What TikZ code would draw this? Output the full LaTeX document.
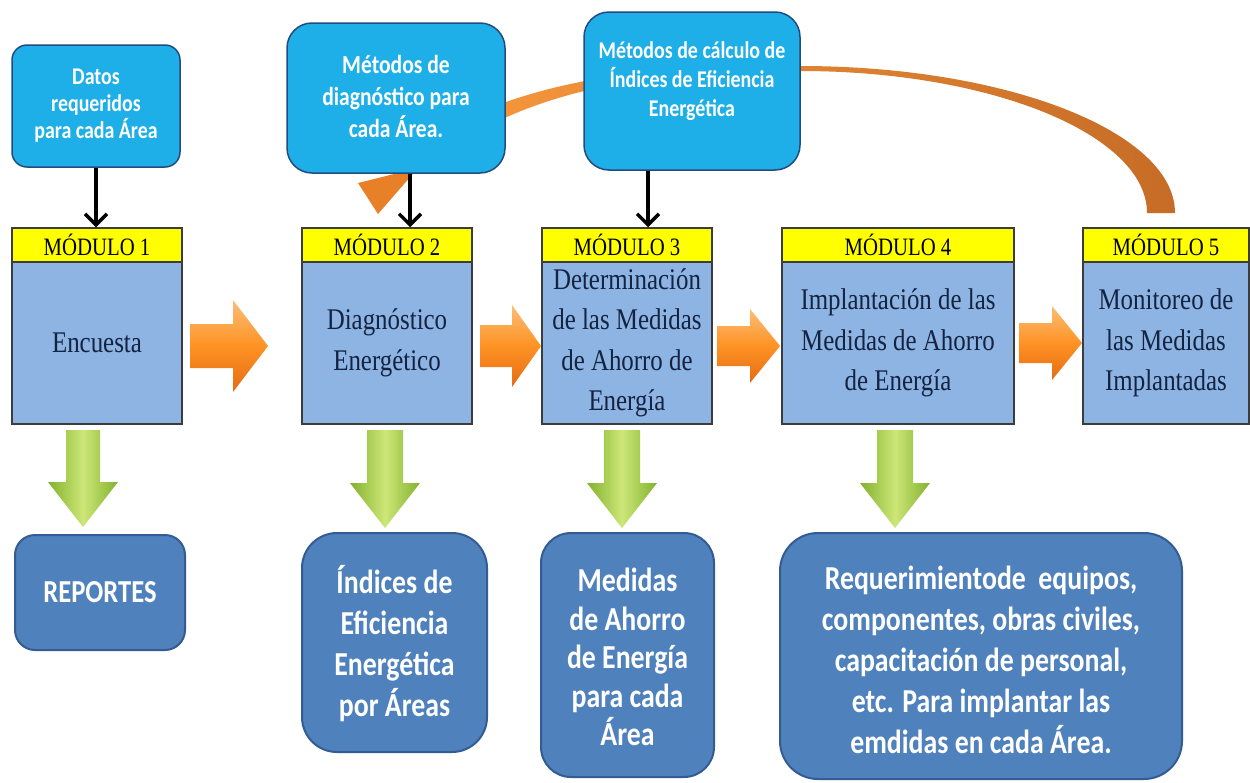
\documentclass[tikz,border=0pt]{standalone}
\usepackage{fontspec}
\setmainfont{Liberation Serif}[FakeStretch=0.83]
\newfontfamily\calfont{Carlito}[FakeStretch=0.83]
\usetikzlibrary{arrows.meta}
\definecolor{hdryellow}{RGB}{255,255,0}
\definecolor{modblue}{RGB}{141,180,226}
\definecolor{modline}{RGB}{60,60,60}
\definecolor{modtext}{RGB}{20,35,65}
\definecolor{skyblue}{RGB}{30,175,232}
\definecolor{skyline}{RGB}{35,75,130}
\definecolor{outblue}{RGB}{79,129,189}
\definecolor{outline}{RGB}{52,92,148}
\definecolor{orTop}{RGB}{252,190,120}
\definecolor{orBot}{RGB}{228,108,20}
\definecolor{arcL}{RGB}{245,150,60}
\definecolor{arcR}{RGB}{198,108,38}
\definecolor{grTop}{RGB}{205,230,120}
\definecolor{grBot}{RGB}{130,178,45}
\newcommand\oarrow[6]{%
  \shade[top color=orTop, bottom color=orBot, middle color=orange!70!orTop]
    (#1,#4-#5) -- (#2,#4-#5) -- (#2,#4-#6) -- (#3,#4) -- (#2,#4+#6) -- (#2,#4+#5) -- (#1,#4+#5) -- cycle;}
\newcommand\garrow[6]{%
  \shade[left color=grBot, right color=grBot, middle color=grTop]
    (#1-#5,#2) -- (#1+#5,#2) -- (#1+#5,#3) -- (#1+#6,#3) -- (#1,#4) -- (#1-#6,#3) -- (#1-#5,#3) -- cycle;}
\begin{document}
\begin{tikzpicture}[x=1pt,y=-1pt,
  hdr/.style={draw=modline, line width=1.5pt, fill=hdryellow, inner sep=0pt,
    font=\fontsize{25}{28}\selectfont, text=black},
  bodybox/.style={draw=modline, line width=1.5pt, fill=modblue, inner sep=0pt,
    align=center, font=\fontsize{30}{40.5}\selectfont, text=modtext},
  tbox/.style={draw=skyline, line width=1.5pt, fill=skyblue, inner sep=0pt},
  ttext/.style={text=white, align=center, inner sep=0pt},
  obox/.style={draw=outline, line width=2pt, fill=outblue, inner sep=0pt},
  otext/.style={text=white, align=center, inner sep=0pt,
    font=\calfont\bfseries\fontsize{33.5}{41}\selectfont},
  blk/.style={line width=3.5pt, -{Straight Barb[length=11pt,width=22pt]}}]
\useasboundingbox (0,0) rectangle (1250,782);
\fill[white] (0,0) rectangle (1250,782);

% orange curved arrow behind the top boxes
\shade[left color=arcL, right color=arcR]
  (480,112) .. controls (570,74) and (680,64) .. (800,66)
  .. controls (1007,66) and (1175,132) .. (1175,213) -- (1147,213)
  .. controls (1147,135) and (992,71) .. (800,71)
  .. controls (680,70) and (575,82) .. (490,125) -- cycle;
\fill[color={rgb,255:red,232;green,128;blue,40}] (358,183) -- (418,168) -- (378,214) -- cycle;

% top boxes
\node[tbox, rounded corners=15pt, minimum width=168, minimum height=122] (t1) at (96,106) {};
\node[ttext, font=\calfont\bfseries\fontsize{24}{27}\selectfont] (t1txt) at (t1.center)
  {Datos\\requeridos\\para cada Área};
\node[tbox, rounded corners=25pt, minimum width=218, minimum height=150] (t2) at (396,98) {};
\node[ttext, font=\calfont\bfseries\fontsize{26}{32}\selectfont] (t2txt) at ([yshift=2]t2.center)
  {Métodos de\\diagnóstico para\\cada Área.};
\node[tbox, rounded corners=25pt, minimum width=216, minimum height=158] (t3) at (692,91) {};
\node[ttext, font=\calfont\bfseries\fontsize{24}{29}\selectfont] (t3txt) at ([yshift=10]t3.center)
  {Métodos de cálculo de\\Índices de Eficiencia\\Energética};

% modules
\node[hdr, minimum width=170, minimum height=34] (h1) at (97,245) {MÓDULO 1};
\node[bodybox, minimum width=170, minimum height=162] (b1) at (97,343) {Encuesta};
\node[hdr, minimum width=170, minimum height=34] (h2) at (387,245) {MÓDULO 2};
\node[bodybox, minimum width=170, minimum height=162] (b2) at (387,343) {Diagnóstico\\Energético};
\node[hdr, minimum width=170, minimum height=34] (h3) at (627,245) {MÓDULO 3};
\node[bodybox, minimum width=170, minimum height=162] (b3) at (627,343) {Determinación\\de las Medidas\\de Ahorro de\\Energía};
\node[hdr, minimum width=232, minimum height=34] (h4) at (898,245) {MÓDULO 4};
\node[bodybox, minimum width=232, minimum height=162] (b4) at (898,343) {Implantación de las\\Medidas de Ahorro\\de Energía};
\node[hdr, minimum width=166, minimum height=34] (h5) at (1166,245) {MÓDULO 5};
\node[bodybox, minimum width=166, minimum height=162] (b5) at (1166,343) {Monitoreo de\\las Medidas\\Implantadas};

% black arrows
\draw[blk] (t1.south) -- (t1.south |- h1.north);
\draw[blk] ([xshift=14]t2.south) -- ([xshift=23]h2.north);
\draw[blk] ([xshift=-44]t3.south) -- ([xshift=21]h3.north);

% orange block arrows between modules
\oarrow{190}{233}{268}{346}{22}{46}
\oarrow{480}{512}{541}{346}{21}{41}
\oarrow{717}{750}{780}{346}{20}{37}
\oarrow{1019}{1052}{1082}{343}{20}{37}

% green block arrows
\garrow{83}{430}{482}{527}{17}{35}
\garrow{385}{430}{483}{528}{18}{35}
\garrow{622}{430}{483}{528}{18}{35}
\garrow{895}{430}{483}{528}{18}{35}

% output boxes
\node[obox, rounded corners=20pt, minimum width=170, minimum height=115] (o1) at (100,592.5) {};
\node[otext, font=\calfont\bfseries\fontsize{32}{36}\selectfont] (o1txt) at (o1.center) {REPORTES};
\node[obox, rounded corners=35pt, minimum width=185, minimum height=219] (o2) at (394.5,642.5) {};
\node[otext] (o2txt) at ([yshift=-1]o2.center) {Índices de\\Eficiencia\\Energética\\por Áreas};
\node[obox, rounded corners=30pt, minimum width=173, minimum height=244] (o3) at (627.5,655) {};
\node[otext, font=\calfont\bfseries\fontsize{33.5}{38.5}\selectfont] (o3txt) at ([yshift=-2]o3.center) {Medidas\\de Ahorro\\de Energía\\para cada\\Área};
\node[obox, rounded corners=38pt, minimum width=402, minimum height=246] (o4) at (981,656) {};
\node[otext] (o4txt) at ([yshift=-4]o4.center) {Requerimientode\ \ equipos,\\componentes,\ obras\ civiles,\\capacitación\ de personal,\\etc. Para implantar\ las\\emdidas\ en cada Área.};
\end{tikzpicture}
\end{document}
